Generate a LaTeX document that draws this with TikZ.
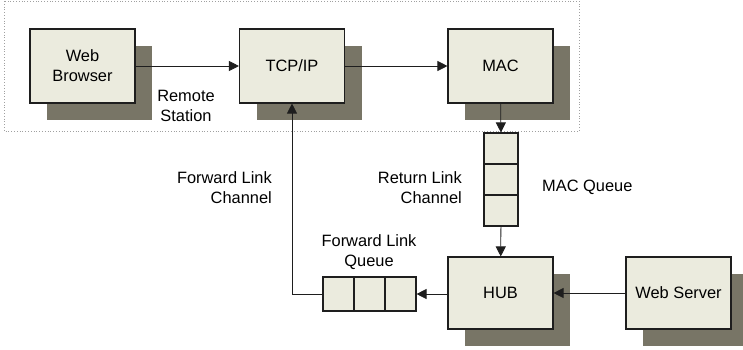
\documentclass[tikz,border=0pt]{standalone}
\usepackage{fontspec}
\setmainfont{Liberation Sans}
\usepackage{xcolor}
\usepackage{tikz}
\usetikzlibrary{arrows.meta,shadows}
\definecolor{border}{HTML}{1E1E1E}
\definecolor{boxfill}{HTML}{EBEBDE}
\definecolor{boxshadow}{HTML}{787566}
\definecolor{frame}{HTML}{A0A0A0}
\tikzset{
  box/.style={draw=border, line width=1.1pt, fill=boxfill, minimum width=105pt,
    minimum height=74pt, align=center, inner sep=0pt,
    general shadow={fill=boxshadow, shadow xshift=17pt, shadow yshift=-17pt}},
  cell/.style={draw=border, line width=1.1pt, fill=boxfill, inner sep=0pt},
  flow/.style={-{Triangle[length=10pt,width=10pt]}, line width=0.8pt, draw=border},
  lbl/.style={inner sep=0pt, align=center}
}
\begin{document}
\begin{tikzpicture}[x=1pt, y=-1pt, font=\fontsize{16.4}{20}\selectfont]
  \useasboundingbox (0,0) rectangle (743,349);
  % remote station frame
  \draw[frame, dotted, line width=0.8pt] (4,1) rectangle (579,131);
  % boxes
  \node[box] (browser) at (82.5,66) {Web\\Browser};
  \node[box] (tcpip)   at (292,66)  {TCP/IP};
  \node[box] (mac)     at (500.5,66) {MAC};
  \node[box, minimum height=72pt] (hub)    at (500.5,293) {HUB};
  \node[box, minimum height=72pt] (server) at (678.5,293) {Web Server};
  % queues
  \foreach \i/\y in {1/148.5, 2/179.5, 3/210.5}
    \node[cell, minimum width=34pt, minimum height=31pt] (mq\i) at (501,\y) {};
  \foreach \i/\x in {1/338.5, 2/369.5, 3/400.5}
    \node[cell, minimum width=31pt, minimum height=34pt] (fq\i) at (\x,294) {};
  % labels
  \node[lbl] at (186,106) {Remote\\Station};
  \node[lbl, anchor=east, align=right] at (272,188) {Forward Link\\Channel};
  \node[lbl, anchor=east, align=right] at (462,188) {Return Link\\Channel};
  \node[lbl] at (369,252) {Forward Link\\Queue};
  \node[lbl, anchor=west] at (542,187) {MAC Queue};
  % connectors
  \draw[flow] (browser) -- (tcpip);
  \draw[flow] (tcpip) -- (mac);
  \draw[flow] (mac) -- (mq1);
  \draw[flow] (mq3) -- (hub);
  \draw[flow] (server) -- (hub);
  \draw[flow] (hub.west |- fq3.east) -- (fq3.east);
  \draw[flow] (fq1.west) -| (tcpip.south);
\end{tikzpicture}
\end{document}
